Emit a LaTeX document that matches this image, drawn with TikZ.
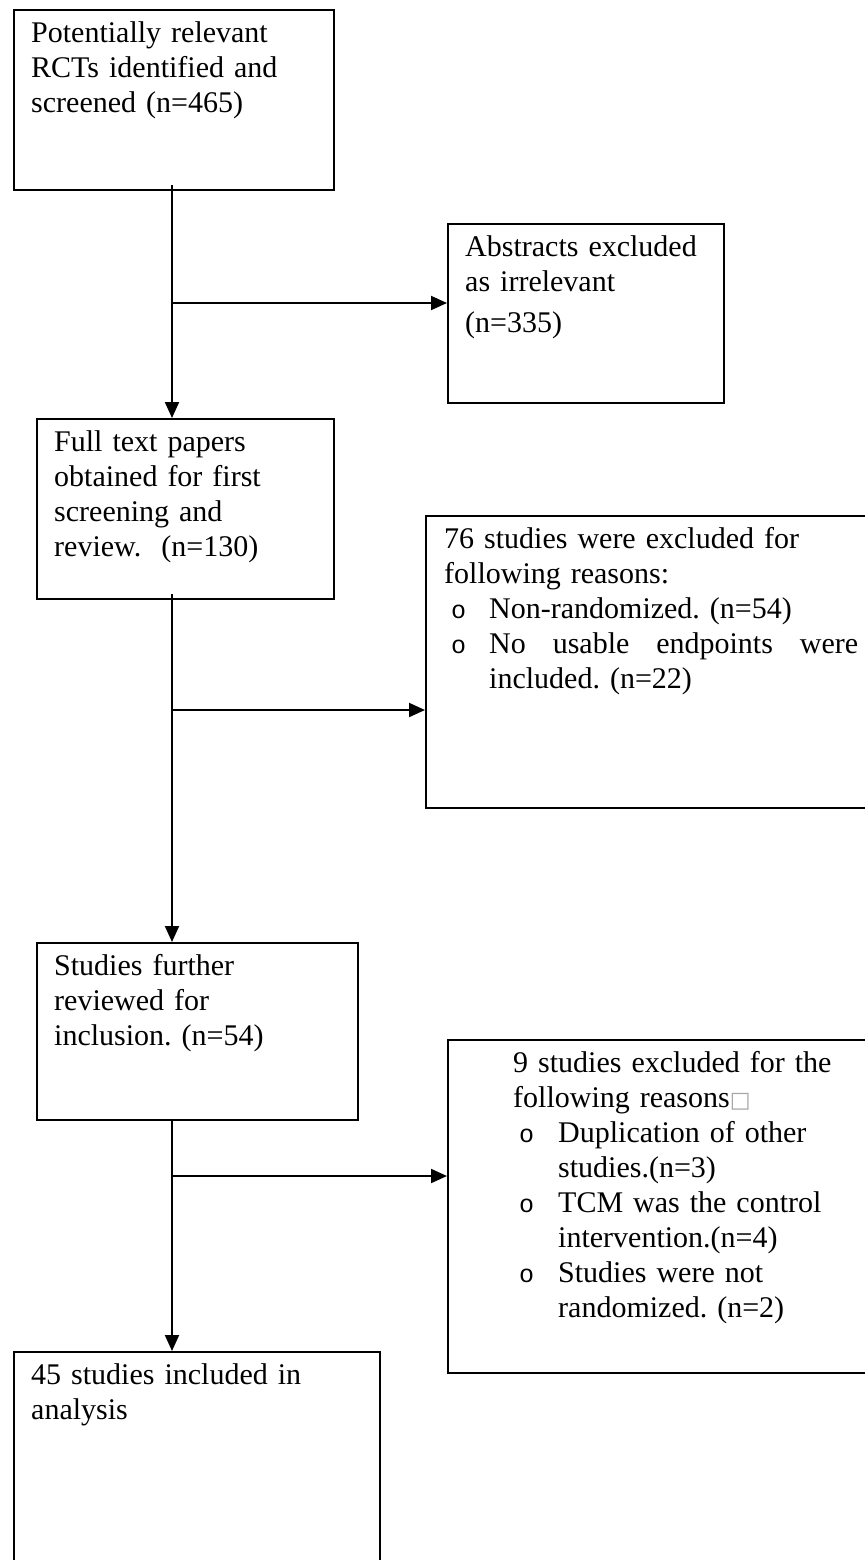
\documentclass[tikz,border=0pt]{standalone}
\usepackage{fontspec}
\setmainfont{Liberation Serif}
\newfontfamily\bulletfont{Liberation Mono}
\newfontfamily\symbfont{DejaVu Sans}
\usetikzlibrary{arrows.meta}
\frenchspacing

\newcommand{\flowtext}{\fontsize{15}{17.5}\selectfont}
\newcommand{\exitem}[1]{\hangindent=22.5pt\hangafter=1\makebox[22.5pt][l]{\hspace{#1}{\bulletfont\fontsize{12.5}{10}\selectfont o}}}

\begin{document}
\begin{tikzpicture}[x=0.5pt, y=-0.5pt,
    >={Triangle[length=8pt,width=7pt]},
    flowbox/.style={draw, line width=1.2pt, anchor=north west, inner xsep=8.5pt,
        inner ysep=4pt, text height=12.25pt, align=left, font=\flowtext},
    link/.style={line width=1pt}]
    \fill[white] (0,0) rectangle (865,1560);
    \useasboundingbox (0,0) rectangle (865,1560);
    \clip (0,0) rectangle (865,1560);
    \node[flowbox, text width=143pt, text depth=69.75pt] (S1) at (13,9) {
        Potentially relevant\\
        RCTs identified and\\
        screened (n=465)
    };
    \node[flowbox, text width=121pt, text depth=69.25pt] (E1) at (447,223) {
        Abstracts excluded\\
        as irrelevant\\[3pt]
        (n=335)
    };
    \node[flowbox, text width=131.5pt, text depth=69.75pt] (S2) at (36,418) {
        Full text papers\\
        obtained for first\\
        screening and\\
        review.\ \ (n=130)
    };
    \node[flowbox, inner xsep=9pt, text width=207.5pt, text depth=125.75pt] (E2) at (425,515) {
        76 studies were excluded for\\
        following reasons:\\
        \exitem{3.5pt}Non-randomized. (n=54)\\
        \exitem{3.5pt}\makebox[184.5pt][l]{No\hfill usable\hfill endpoints\hfill were}\newline included. (n=22)\par
    };
    \node[flowbox, text width=143.5pt, text depth=68.25pt] (S3) at (36,942) {
        Studies further\\
        reviewed for\\
        inclusion. (n=54)
    };
    \node[flowbox, inner xsep=32.5pt, text width=160pt, text depth=146.25pt] (E3) at (447,1039) {
        9 studies excluded for the\\
        following reasons{\symbfont\fontsize{11}{11}\selectfont\textcolor{gray!70}{□}}\\
        \exitem{3pt}Duplication of other\newline studies.(n=3)\\
        \exitem{3pt}TCM was the control\newline intervention.(n=4)\\
        \exitem{3pt}Studies were not\newline randomized. (n=2)\par
    };
    \node[flowbox, text width=166pt, text depth=104.25pt] (S4) at (13,1351) {
        45 studies included in\\
        analysis
    };
    \coordinate (spine) at (172,0);
    \coordinate (J1) at (172,303);
    \coordinate (J2) at (172,710);
    \coordinate (J3) at (172,1176);
    \draw[link, ->] (S1.south -| spine) ++(0,-6) -- (S2.north -| spine);
    \draw[link, ->] (S2.south -| spine) ++(0,-6) -- (S3.north -| spine);
    \draw[link, ->] (S3.south -| spine) -- (S4.north -| spine);
    \draw[link, ->] (J1) -- (J1 -| E1.west);
    \draw[link, ->] (J2) -- (J2 -| E2.west);
    \draw[link, ->] (J3) -- (J3 -| E3.west);
\end{tikzpicture}
\end{document}
